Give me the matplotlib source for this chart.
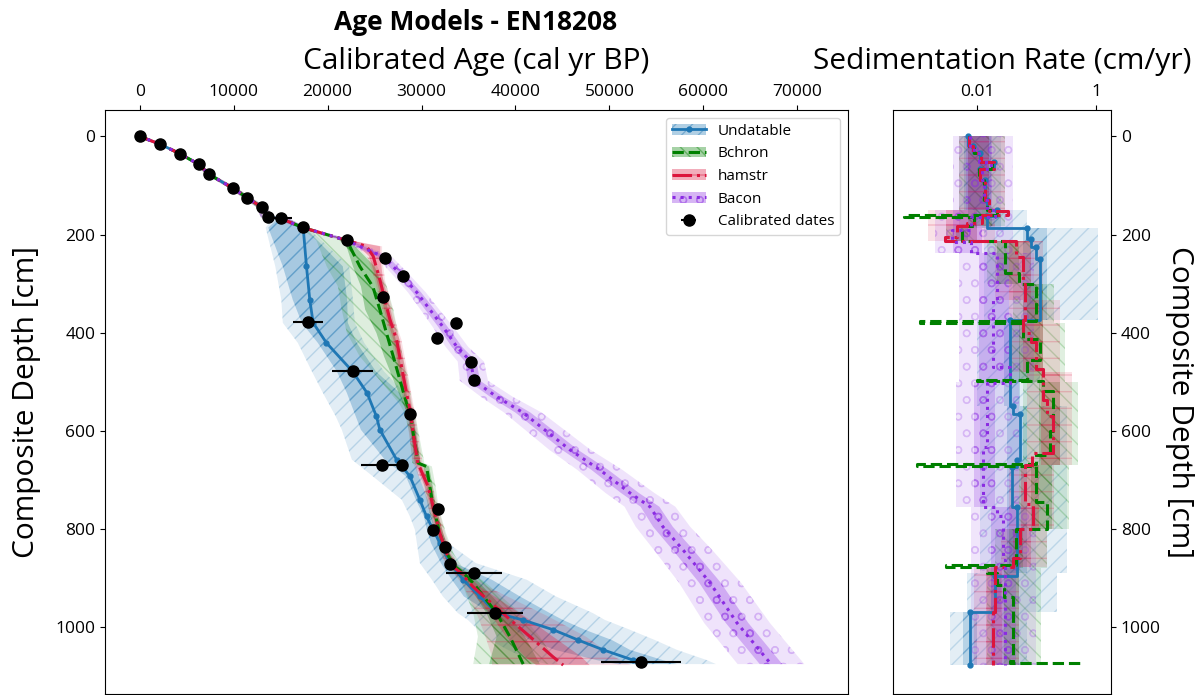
import numpy as np
import matplotlib
matplotlib.use("Agg")
import matplotlib.pyplot as plt
from matplotlib.colors import to_rgba
from matplotlib.patches import Patch

plt.rcParams['font.family'] = ['Open Sans', 'DejaVu Sans']
plt.rcParams['hatch.linewidth'] = 1.0

# ---------------- calibrated dates ----------------
date_depth = [0, 16, 35, 57, 77, 105, 125, 144, 165, 167,
              185, 212, 248, 285, 327, 378, 380, 410, 460, 497,
              478, 565, 670, 670, 759, 802, 837, 871, 890, 971, 1072]
date_age = [0, 2200, 4260, 6290, 7350, 9880, 11430, 12970, 13600, 14990,
            17400, 22090, 26100, 28020, 25920, 17870, 33640, 31680, 35270, 35620,
            22660, 28800, 25820, 27880, 31780, 31220, 32500, 33030, 35590, 37820, 53380]
date_err = [100, 150, 150, 150, 150, 150, 150, 150, 150, 1170,
            200, 200, 200, 200, 200, 1600, 200, 200, 200, 200,
            2150, 200, 2240, 640, 200, 200, 200, 200, 2980, 3000, 4260]

# ---------------- shared top of all age models ----------------
top_depth = [0, 16, 35, 57, 77, 105, 125, 144, 165, 167]
top_age = [0, 2200, 4260, 6290, 7350, 9880, 11430, 12970, 13600, 15000]
top_in = [0, 60, 100, 120, 140, 160, 180, 200, 250, 300]
top_out = [0, 150, 250, 300, 350, 400, 450, 550, 700, 800]

# ---------------- Undatable ----------------
und_depth = [186, 265, 333, 380, 421, 479, 523, 571, 598, 659, 693, 741, 775,
             802, 829, 870, 904, 938, 972, 986, 1006, 1027, 1047, 1068, 1076]
und_age = [17400, 17750, 18100, 18460, 19880, 22650, 24200, 25200, 25560, 27340,
           28760, 29820, 30530, 31240, 31950, 33015, 34430, 36210, 37990, 40790,
           44020, 46680, 49340, 52540, 53360]
und_in_lo = [13680, 15230, 16290, 17250, 18960, 20980, 22050, 23000, 23540, 26090,
             28330, 29400, 30250, 30570, 31000, 32060, 33230, 34500, 37280, 38340,
             39940, 41540, 44200, 48670, 50800]
und_in_hi = [17600, 21620, 22080, 22150, 23110, 25130, 27690, 28760, 28970, 29290,
             29710, 30670, 31100, 31520, 32300, 33550, 37490, 40470, 43660, 45050,
             47390, 50270, 52190, 55700, 57190]
und_out_lo = [13400, 14430, 15070, 15230, 16830, 18320, 19500, 20870, 21510, 22580,
              24810, 27900, 28760, 29290, 29500, 29820, 31100, 32270, 33870, 34930,
              36000, 37280, 39190, 41540, 43350]
und_out_hi = [17900, 22300, 22700, 22900, 23900, 26000, 28200, 29200, 29500, 29800,
              30200, 31100, 31600, 31950, 32800, 35780, 41200, 44300, 48240, 49520,
              52190, 54850, 57190, 60390, 61340]

# ---------------- Bchron ----------------
bch_depth = [186, 212, 265, 306, 353, 401, 448, 496, 544, 564, 605, 666, 673,
             714, 755, 809, 850, 877, 890, 911, 972, 1020, 1076]
bch_age = [17400, 22045, 23430, 24810, 25560, 26270, 26980, 27690, 28400, 28830,
           29110, 29640, 30530, 30885, 31240, 31950, 32660, 33550, 34430, 35500,
           37990, 39400, 40820]
bch_in_lo = [17200, 21800, 22700, 23550, 24000, 25200, 26000, 27000, 28000, 28500,
             28900, 29300, 30200, 30600, 31000, 31700, 32400, 33200, 34000, 34900,
             36900, 38000, 37200]
bch_in_hi = [17600, 22300, 25000, 25900, 26400, 27100, 27600, 28100, 28600, 29000,
             29400, 29900, 30800, 31200, 31500, 32300, 33000, 33900, 34900, 36200,
             39200, 41000, 42600]
bch_out_lo = [17100, 18800, 19900, 21100, 21500, 22050, 23400, 25500, 27600, 28200,
              28700, 29000, 29900, 30300, 30700, 31400, 32000, 32900, 33500, 34300,
              35500, 36000, 35500]
bch_out_hi = [17700, 22400, 25300, 26300, 27000, 27500, 28000, 28600, 29000, 29300,
              29700, 30300, 31100, 31500, 31800, 32600, 33400, 34300, 35400, 36900,
              40500, 42600, 44500]

# ---------------- hamstr ----------------
ham_depth = [186, 212, 224, 244, 292, 333, 373, 414, 469, 523, 564, 605, 666,
             714, 755, 809, 850, 877, 890, 918, 979, 1020, 1061, 1078]
ham_age = [17400, 22045, 24140, 24850, 25560, 26090, 26630, 27340, 27870, 28400,
           28830, 29110, 29600, 30700, 31240, 31950, 32660, 33300, 34200, 35460,
           39050, 41540, 43980, 45080]
ham_in_lo = [17250, 21850, 23300, 24400, 25200, 25750, 26300, 27000, 27550, 28100,
             28550, 28850, 29300, 30350, 30900, 31600, 32300, 32900, 33800, 34900,
             37500, 39000, 41000, 42200]
ham_in_hi = [17550, 22250, 25600, 25600, 25900, 26450, 26950, 27650, 28200, 28700,
             29100, 29400, 29900, 31000, 31550, 32300, 33000, 33700, 34600, 36200,
             41000, 44000, 47000, 47900]
ham_out_lo = [17100, 21700, 23000, 24200, 25000, 25550, 26100, 26800, 27350, 27900,
              28350, 28650, 29100, 30150, 30700, 31400, 32100, 32600, 33400, 34500,
              36000, 36800, 37500, 37500]
ham_out_hi = [17700, 22400, 25800, 25800, 26100, 26650, 27150, 27850, 28400, 28900,
              29300, 29600, 30100, 31200, 31750, 32500, 33200, 34000, 35000, 37000,
              43500, 47500, 50500, 52300]

# ---------------- Bacon ----------------
bac_depth = [186, 212, 247, 286, 318, 353, 388, 429, 459, 498, 531, 563, 639,
             680, 727, 755, 796, 843, 910, 992, 1076]
bac_age = [17400, 22045, 26090, 28010, 29500, 30885, 32270, 33760, 35250, 35570,
           38020, 40790, 45795, 48990, 52185, 54315, 55700, 57830, 60705, 63580, 67200]
bac_in = [300, 350, 450, 450, 450, 500, 500, 550, 600, 650, 700, 800, 850, 900,
          950, 1000, 1050, 1100, 1150, 1200, 1200]
bac_out = [600, 700, 850, 900, 950, 1000, 1100, 1200, 1400, 1500, 1700, 2000, 2200,
           2400, 2600, 2700, 2900, 3100, 3300, 3500, 3550]

# ---------------- sedimentation rates (cm/yr), step per depth interval ----------------
sr_und_edges = [0, 20, 33, 53, 67, 88, 129, 149, 163, 187, 210, 225, 250, 374, 550,
                565, 660, 675, 755, 897, 970, 1078]
sr_und = [0.0072, 0.0087, 0.0113, 0.019, 0.0113, 0.0135, 0.015, 0.022, 0.015, 0.07,
          0.08, 0.10, 0.115, 0.036, 0.04, 0.053, 0.047, 0.039, 0.047, 0.020, 0.0077]
sr_bch_edges = [0, 20, 33, 53, 67, 88, 129, 149, 161, 165, 183, 214, 278, 300, 376,
                380, 414, 455, 496, 499, 520, 600, 650, 668, 672, 745, 800, 873, 877,
                890, 915, 940, 1070, 1074, 1078]
sr_bch = [0.0075, 0.009, 0.0115, 0.018, 0.011, 0.013, 0.015, 0.022, 0.0006, 0.009,
          0.0056, 0.03, 0.05, 0.10, 0.0011, 0.06, 0.115, 0.07, 0.01, 0.13,
          0.19, 0.17, 0.10, 0.001, 0.10, 0.15, 0.045, 0.003, 0.015, 0.022,
          0.028, 0.04, 0.036, 0.54]
sr_ham_edges = [0, 20, 33, 53, 67, 88, 129, 152, 160, 176, 183, 206, 214, 245, 300,
                333, 374, 400, 420, 475, 537, 571, 645, 670, 750, 800, 860, 877, 970, 1078]
sr_ham = [0.0075, 0.0085, 0.0115, 0.019, 0.0112, 0.0135, 0.016, 0.033, 0.012, 0.0069,
          0.0046, 0.0029, 0.045, 0.06, 0.065, 0.065, 0.06, 0.08, 0.10, 0.13,
          0.15, 0.19, 0.084, 0.065, 0.088, 0.053, 0.04, 0.020, 0.0188]
sr_bac_edges = [0, 20, 33, 53, 67, 88, 129, 149, 165, 190, 215, 237, 333, 470, 502,
                633, 755, 775, 863, 1078]
sr_bac = [0.0078, 0.009, 0.011, 0.017, 0.012, 0.013, 0.015, 0.02, 0.008, 0.0038,
          0.008, 0.022, 0.0188, 0.036, 0.0147, 0.0128, 0.022, 0.0276, 0.03]

# uncertainty envelopes of the rates
sb_und_edges = [0, 150, 187, 374, 550, 890, 970, 1078]
sb_und_in = [(0.006, 0.017), (0.012, 0.025), (0.06, 0.15), (0.028, 0.053),
             (0.032, 0.07), (0.017, 0.025), (0.0059, 0.010)]
sb_und_out = [(0.005, 0.025), (0.009, 0.07), (0.013, 1.1), (0.01, 0.115),
              (0.0114, 0.33), (0.0069, 0.22), (0.0035, 0.07)]
sb_bch_edges = [0, 150, 183, 214, 300, 380, 500, 670, 800, 880, 1078]
sb_bch_in = [(0.007, 0.016), (0.007, 0.018), (0.0045, 0.007), (0.022, 0.05),
             (0.07, 0.13), (0.05, 0.13), (0.11, 0.25), (0.08, 0.18), (0.035, 0.06),
             (0.028, 0.05)]
sb_bch_out = [(0.005, 0.03), (0.005, 0.03), (0.003, 0.01), (0.015, 0.08), (0.04, 0.2),
              (0.035, 0.3), (0.06, 0.5), (0.05, 0.35), (0.02, 0.15), (0.015, 0.12)]
sb_ham_edges = [0, 150, 214, 333, 480, 670, 800, 877, 1078]
sb_ham_in = [(0.007, 0.016), (0.003, 0.01), (0.035, 0.08), (0.06, 0.13),
             (0.12, 0.25), (0.055, 0.11), (0.04, 0.08), (0.014, 0.026)]
sb_ham_out = [(0.005, 0.03), (0.0015, 0.02), (0.02, 0.13), (0.035, 0.25),
              (0.07, 0.4), (0.035, 0.2), (0.025, 0.15), (0.009, 0.05)]
sb_bac_edges = [0, 150, 237, 500, 755, 1078]
sb_bac_in = [(0.0065, 0.018), (0.004, 0.012), (0.011, 0.035), (0.009, 0.02),
             (0.017, 0.045)]
sb_bac_out = [(0.004, 0.04), (0.002, 0.04), (0.005, 0.09), (0.0045, 0.05),
              (0.008, 0.1)]

c_und = '#1f77b4'
c_bch = 'green'
c_ham = 'crimson'
c_bac = 'blueviolet'

fig = plt.figure(figsize=(12.01, 6.95), dpi=100)
ax = fig.add_axes([105 / 1201, 1 / 695, 743 / 1201, 584 / 695])
ax2 = fig.add_axes([893 / 1201, 1 / 695, 218 / 1201, 584 / 695])


def band(axis, d, lo, hi, color, hatch, fa, ea, step=None):
    axis.fill_betweenx(d, lo, hi, facecolor=to_rgba(color, fa),
                       edgecolor=to_rgba(color, ea), hatch=hatch,
                       linewidth=0, step=step)


models = [
    ('Undatable', c_und, '//', '-', und_depth, und_age,
     und_in_lo, und_in_hi, und_out_lo, und_out_hi),
    ('Bchron', c_bch, '\\\\', '--', bch_depth, bch_age,
     bch_in_lo, bch_in_hi, bch_out_lo, bch_out_hi),
    ('hamstr', c_ham, '-', '-.', ham_depth, ham_age,
     ham_in_lo, ham_in_hi, ham_out_lo, ham_out_hi),
    ('Bacon', c_bac, 'o', ':', bac_depth, bac_age,
     list(np.array(bac_age) - np.array(bac_in)), list(np.array(bac_age) + np.array(bac_in)),
     list(np.array(bac_age) - np.array(bac_out)), list(np.array(bac_age) + np.array(bac_out))),
]

ta = np.array(top_age)
for name, col, hat, ls, md, ma, ilo, ihi, olo, ohi in models:
    d = np.array(top_depth + md)
    olo_f = np.concatenate([ta - np.array(top_out), olo])
    ohi_f = np.concatenate([ta + np.array(top_out), ohi])
    ilo_f = np.concatenate([ta - np.array(top_in), ilo])
    ihi_f = np.concatenate([ta + np.array(top_in), ihi])
    band(ax, d, olo_f, ohi_f, col, hat, 0.13, 0.22)
    band(ax, d, ilo_f, ihi_f, col, hat, 0.3, 0.35)

handles = []
for name, col, hat, ls, md, ma, ilo, ihi, olo, ohi in models:
    d = np.array(top_depth + md)
    a = np.array(top_age + ma)
    if name == 'Undatable':
        ln, = ax.plot(a, d, color=col, ls=ls, lw=2, marker='o', ms=3.5)
    else:
        ln, = ax.plot(a, d, color=col, ls=ls, lw=2.2)
    handles.append((Patch(facecolor=to_rgba(col, 0.35), edgecolor=to_rgba(col, 0.4),
                          hatch=hat, linewidth=0), ln))

eb = ax.errorbar(date_age, date_depth, xerr=date_err, fmt='o', color='black',
                 ms=8, elinewidth=1.5, zorder=10)
handles.append(eb)

ax.legend(handles, ['Undatable', 'Bchron', 'hamstr', 'Bacon', 'Calibrated dates'],
          loc='upper right', fontsize=11, handlelength=2.2)

ax.set_xlim(-3700, 75400)
ax.set_ylim(1137, -54)
ax.set_xticks(np.arange(0, 70001, 10000))
ax.set_yticks(np.arange(0, 1001, 200))
ax.xaxis.tick_top()
ax.xaxis.set_label_position('top')
ax.tick_params(labelsize=12.5)
ax.set_xlabel('Calibrated Age (cal yr BP)', fontsize=21.5, labelpad=11)
ax.set_ylabel('Composite Depth [cm]', fontsize=21.5, labelpad=10)

# ---------------- sedimentation-rate panel ----------------
rate_models = [
    (c_und, '//', '-', sr_und_edges, sr_und, sb_und_edges, sb_und_in, sb_und_out),
    (c_bch, '\\\\', '--', sr_bch_edges, sr_bch, sb_bch_edges, sb_bch_in, sb_bch_out),
    (c_ham, '-', '-.', sr_ham_edges, sr_ham, sb_ham_edges, sb_ham_in, sb_ham_out),
    (c_bac, 'o', ':', sr_bac_edges, sr_bac, sb_bac_edges, sb_bac_in, sb_bac_out),
]
for col, hat, ls, e, r, be, bi, bo in rate_models:
    be = np.array(be)
    olo = [v[0] for v in bo] + [bo[-1][0]]
    ohi = [v[1] for v in bo] + [bo[-1][1]]
    ilo = [v[0] for v in bi] + [bi[-1][0]]
    ihi = [v[1] for v in bi] + [bi[-1][1]]
    band(ax2, be, olo, ohi, col, hat, 0.12, 0.2, step='post')
    band(ax2, be, ilo, ihi, col, hat, 0.22, 0.3, step='post')

for col, hat, ls, e, r, be, bi, bo in rate_models:
    r_ext = r + [r[-1]]
    if col == c_und:
        ax2.plot(r_ext, e, color=col, ls=ls, lw=2, marker='o', ms=3.5,
                 drawstyle='steps-pre')
    else:
        ax2.plot(r_ext, e, color=col, ls=ls, lw=2.2, drawstyle='steps-pre')

ax2.set_xscale('log')
ax2.set_xlim(3.9e-4, 1.785)
ax2.set_ylim(1137, -54)
ax2.set_xticks([0.01, 1])
ax2.set_xticklabels(['0.01', '1'])
ax2.minorticks_off()
ax2.set_yticks(np.arange(0, 1001, 200))
ax2.xaxis.tick_top()
ax2.xaxis.set_label_position('top')
ax2.yaxis.tick_right()
ax2.yaxis.set_label_position('right')
ax2.tick_params(labelsize=12.5)
ax2.set_xlabel('Sedimentation Rate (cm/yr)', fontsize=21.5, labelpad=11)
ax2.set_ylabel('Composite Depth [cm]', fontsize=21.5, rotation=270, labelpad=24)

fig.text(476 / 1201, 1 - 22 / 695, 'Age Models - EN18208', ha='center', va='center',
         fontsize=19, fontweight='bold')

fig.savefig('out.png', dpi=100)
